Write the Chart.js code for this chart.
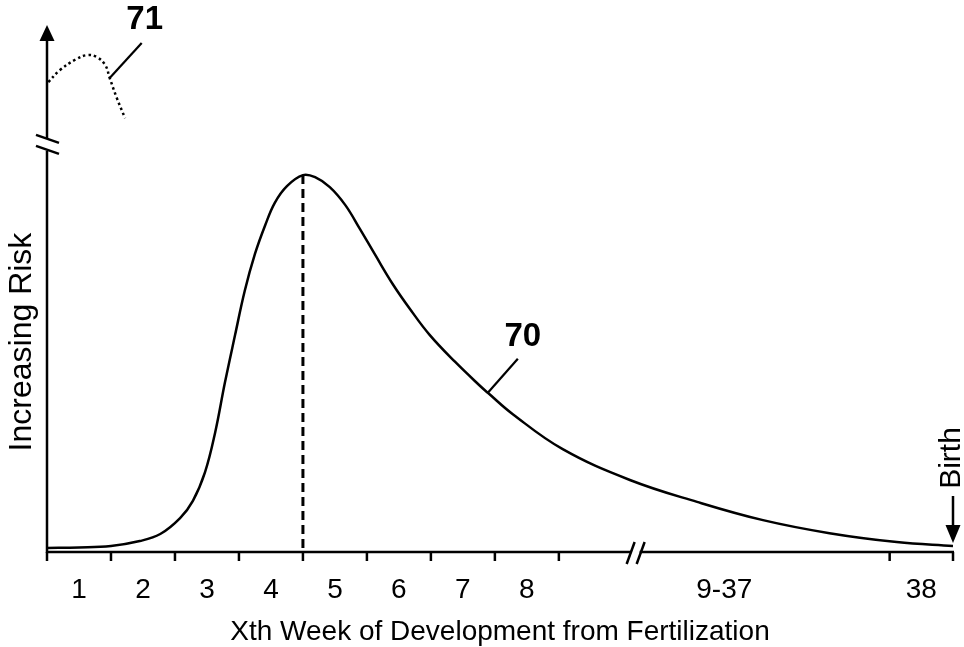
<!DOCTYPE html>
<html>
<head>
<meta charset="utf-8">
<script src="https://cdn.jsdelivr.net/npm/chart.js@4.4.1/dist/chart.umd.min.js"></script>
<style>
  html, body { margin: 0; padding: 0; background: #fff; }
  #wrap { width: 964px; height: 647px; }
</style>
</head>
<body>
<div id="wrap"><canvas id="riskChart" width="964" height="647"></canvas></div>
<script>
// weeks on x: one unit = one week column, the 9-37 block is squeezed
const weekLabels = ['1', '2', '3', '4', '5', '6', '7', '8', '9-37', '38'];
const weekBounds = [0, 1, 2, 3, 4, 5, 6, 7, 8, 13.17, 14.16];
const xMax = 14.16;
const yMax = 100;
const xBreak = 9.2;   // "//" on the x axis
const yBreak = 78;    // "//" on the y axis

// curve 70 - risk vs week
const riskWeeks = [0, 0.5, 1, 1.45, 1.77, 2.08, 2.28, 2.47, 2.63, 2.78, 2.94, 3.09, 3.25, 3.41, 3.56, 3.75, 4.0,
  4.19, 4.42, 4.66, 4.89, 5.13, 5.41, 5.67, 5.98, 6.38, 6.77, 6.89, 7.28, 8.06, 9.11, 10.16, 11.19, 12.23, 13.28, 14.16];
const riskValues = [0.77, 0.86, 1.15, 2.1, 3.45, 6.5, 9.8, 15.3, 23.0, 32.4, 41.6, 50.0, 57.1, 62.6, 66.9, 70.1, 72.2,
  71.8, 69.9, 66.5, 61.9, 56.9, 51.2, 46.6, 41.6, 36.4, 31.8, 30.5, 26.4, 19.7, 13.8, 9.6, 6.1, 3.6, 1.9, 1.15];

// curve 71 - dotted, above the y break
const earlyWeeks = [0.02, 0.2, 0.44, 0.63, 0.78, 0.91, 0.98, 1.09, 1.22];
const earlyValues = [90.0, 92.3, 94.3, 95.2, 94.8, 93.3, 90.8, 87.0, 83.1];

const peakWeek = 4.0;
const peakRisk = 72.2;

const toPoints = (xs, ys) => xs.map((v, i) => ({x: v, y: ys[i]}));

const FONT = '"Liberation Sans", Arial, sans-serif';

function line(ctx, x1, y1, x2, y2) {
    ctx.beginPath();
    ctx.moveTo(x1, y1);
    ctx.lineTo(x2, y2);
    ctx.stroke();
}

// axes, breaks, tick labels and callouts drawn over the scales
const riskDecor = {
    id: 'riskDecor',
    beforeDatasetsDraw(chart) {
        const {ctx, scales: {x, y}} = chart;
        const x0 = x.getPixelForValue(0);
        const y0 = y.getPixelForValue(0);
        const xEnd = x.getPixelForValue(xMax);
        const yTop = y.getPixelForValue(yMax);
        ctx.save();
        ctx.strokeStyle = '#000';
        ctx.fillStyle = '#000';
        ctx.lineWidth = 2.5;
        ctx.lineCap = 'butt';

        // x axis with break
        const xb = x.getPixelForValue(xBreak);
        line(ctx, x0 - 1, y0, xb - 4, y0);
        line(ctx, xb + 4, y0, xEnd + 1, y0);
        line(ctx, xb - 9, y0 + 12, xb - 1, y0 - 10);
        line(ctx, xb + 1, y0 + 12, xb + 9, y0 - 10);
        weekBounds.forEach(v => {
            const px = x.getPixelForValue(v);
            line(ctx, px, y0, px, y0 + 9);
        });

        // y axis with break and arrow
        const yb = y.getPixelForValue(yBreak);
        line(ctx, x0, y0 + 1, x0, yb + 6);
        line(ctx, x0, yb - 6, x0, yTop + 10);
        line(ctx, x0 - 11, yb - 10, x0 + 12, yb - 2);
        line(ctx, x0 - 11, yb + 1, x0 + 12, yb + 9);
        ctx.beginPath();
        ctx.moveTo(x0, yTop - 5);
        ctx.lineTo(x0 - 7.5, yTop + 11);
        ctx.lineTo(x0 + 7.5, yTop + 11);
        ctx.closePath();
        ctx.fill();

        // tick labels centred in each week column
        ctx.font = '28px ' + FONT;
        ctx.textAlign = 'center';
        ctx.textBaseline = 'alphabetic';
        weekLabels.forEach((lab, i) => {
            const mid = (x.getPixelForValue(weekBounds[i]) + x.getPixelForValue(weekBounds[i + 1])) / 2;
            ctx.fillText(lab, mid, y0 + 46);
        });

        // axis titles
        ctx.font = '28px ' + FONT;
        ctx.fillText('Xth Week of Development from Fertilization', (x0 + xEnd) / 2, y0 + 88);
        ctx.save();
        ctx.translate(22, 342);
        ctx.rotate(-Math.PI / 2);
        ctx.textBaseline = 'middle';
        ctx.font = '32px ' + FONT;
        ctx.fillText('Increasing Risk', 0, 0);
        ctx.restore();
        ctx.restore();
    },
    afterDatasetsDraw(chart) {
        const {ctx, scales: {x, y}} = chart;
        ctx.save();
        ctx.strokeStyle = '#000';
        ctx.fillStyle = '#000';
        ctx.lineWidth = 2.2;

        // 71 callout
        const p71x = x.getPixelForValue(earlyWeeks[6]);
        const p71y = y.getPixelForValue(earlyValues[6]);
        line(ctx, p71x, p71y, p71x + 32, p71y - 35);
        // 70 callout
        const p70x = x.getPixelForValue(riskWeeks[27]);
        const p70y = y.getPixelForValue(riskValues[27]);
        line(ctx, p70x, p70y, p70x + 30, p70y - 34);

        ctx.font = 'bold 33px ' + FONT;
        ctx.textAlign = 'center';
        ctx.textBaseline = 'middle';
        ctx.fillText('71', p71x + 35, p71y - 58);
        ctx.fillText('70', p70x + 35, p70y - 56);

        // Birth arrow at the last week
        const bx = x.getPixelForValue(xMax);
        const by = y.getPixelForValue(riskValues[riskValues.length - 1]);
        ctx.lineWidth = 2.5;
        line(ctx, bx, by - 50, bx, by - 14);
        ctx.beginPath();
        ctx.moveTo(bx, by - 3);
        ctx.lineTo(bx - 7.5, by - 21);
        ctx.lineTo(bx + 7.5, by - 21);
        ctx.closePath();
        ctx.fill();
        ctx.save();
        ctx.translate(bx - 1, by - 88);
        ctx.rotate(-Math.PI / 2);
        ctx.font = '30px ' + FONT;
        ctx.textAlign = 'center';
        ctx.textBaseline = 'middle';
        ctx.fillText('Birth', 0, 0);
        ctx.restore();
        ctx.restore();
    }
};

new Chart(document.getElementById('riskChart'), {
    type: 'line',
    data: {
        datasets: [
            {
                label: '70',
                data: toPoints(riskWeeks, riskValues),
                borderColor: '#000',
                borderWidth: 2.5,
                pointRadius: 0,
                tension: 0.4,
                fill: false,
            },
            {
                label: 'peak',
                data: [{x: peakWeek, y: peakRisk}, {x: peakWeek, y: 0}],
                borderColor: '#000',
                borderWidth: 3,
                borderDash: [9, 5],
                pointRadius: 0,
            },
            {
                label: '71',
                data: toPoints(earlyWeeks, earlyValues),
                borderColor: '#000',
                borderWidth: 2.5,
                borderDash: [2.5, 3],
                pointRadius: 0,
                tension: 0.4,
            },
        ],
    },
    options: {
        responsive: false,
        animation: false,
        devicePixelRatio: 1,
        layout: {padding: {left: 47, right: 11, top: 30, bottom: 95}},
        plugins: {legend: {display: false}, tooltip: {enabled: false}},
        scales: {
            x: {type: 'linear', min: 0, max: xMax, display: false},
            y: {type: 'linear', min: 0, max: yMax, display: false},
        },
    },
    plugins: [riskDecor],
});
</script>
</body>
</html>
